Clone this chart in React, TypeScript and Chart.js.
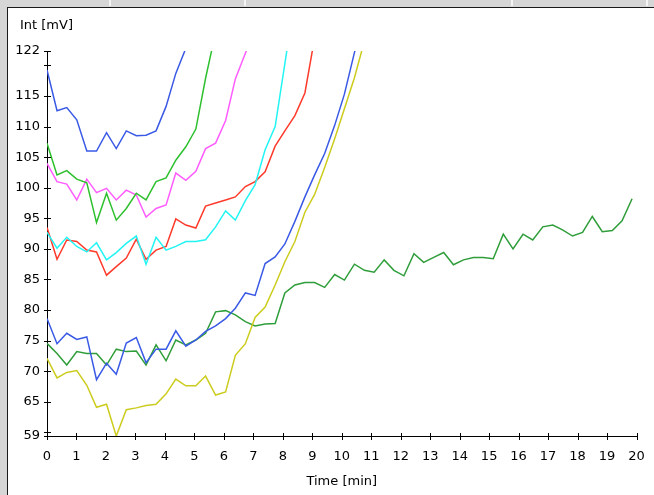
import React, { useEffect, useRef } from 'react';
import { Chart, registerables } from 'chart.js';

Chart.register(...registerables);

// sample times (min)
const times = [
  0, 0.34, 0.67, 1.01, 1.35, 1.68, 2.02, 2.35, 2.69, 3.03,
  3.36, 3.7, 4.04, 4.37, 4.71, 5.05, 5.38, 5.72, 6.06, 6.39,
  6.73, 7.06, 7.4, 7.74, 8.07, 8.41, 8.75, 9.08, 9.42, 9.76,
  10.09, 10.43, 10.77, 11.1, 11.44, 11.77, 12.11, 12.45, 12.78, 13.12,
  13.46, 13.79, 14.13, 14.47, 14.8, 15.14, 15.48, 15.81, 16.15, 16.48,
  16.82, 17.16, 17.49, 17.83, 18.17, 18.5, 18.84, 19.18, 19.51, 19.85,
];

const blueTop = [119.25, 112.6, 113.1, 111.1, 106.0, 106.0, 109.0, 106.4, 109.3, 108.5, 108.6, 109.3, 113.3, 118.7, 122.8, 127.0];
const greenTop = [107.26, 102.1, 102.8, 101.4, 100.8, 94.3, 99.1, 94.7, 96.6, 99.1, 98.0, 101.0, 101.6, 104.5, 106.7, 109.6, 117.9, 125.4];
const magenta = [103.99, 101.0, 100.6, 98.0, 101.4, 99.2, 99.9, 98.0, 99.6, 98.8, 95.2, 96.6, 97.2, 102.4, 101.2, 102.7, 106.4, 107.3, 111.0, 117.8, 122.0, 126.0];
const cyan = [92.7, 90.1, 91.9, 90.4, 89.5, 91.0, 88.2, 89.4, 90.9, 92.1, 87.5, 91.9, 89.8, 90.4, 91.2, 91.2, 91.5, 93.6, 96.2, 94.7, 97.9, 100.5, 106.2, 110.0, 120.3, 131.0];
const red = [93.5, 88.3, 91.45, 91.2, 89.8, 89.5, 85.7, 87.1, 88.5, 91.6, 88.3, 89.8, 90.4, 94.9, 93.9, 93.4, 97.0, 97.5, 98.0, 98.5, 100.2, 101.0, 102.6, 106.8, 109.3, 111.8, 115.5, 124.5];
const blueLow = [78.6, 74.5, 76.2, 75.2, 75.6, 68.6, 71.3, 69.5, 74.6, 75.5, 71.4, 73.6, 73.6, 76.6, 74.1, 75.1, 76.5, 77.4, 78.6, 80.3, 82.8, 82.4, 87.6, 88.7, 90.8, 94.5, 98.5, 102.1, 105.6, 110.2, 115.3, 122.1, 129.0];
const darkGreen = [
  74.55, 72.9, 71.0, 73.2, 72.9, 72.9, 71.0, 73.6, 73.2, 73.3,
  71.0, 74.3, 71.7, 75.1, 74.3, 75.1, 76.2, 79.7, 79.9, 79.2,
  78.1, 77.4, 77.7, 77.8, 82.8, 84.1, 84.5, 84.5, 83.7, 85.8,
  84.9, 87.5, 86.5, 86.2, 88.2, 86.5, 85.6, 89.2, 87.8, 88.6,
  89.4, 87.4, 88.2, 88.6, 88.6, 88.4, 92.4, 90.0, 92.4, 91.45,
  93.6, 93.9, 93.1, 92.1, 92.7, 95.3, 92.8, 93.0, 94.6, 98.2,
];
const yellow = [72.1, 68.9, 69.8, 70.1, 67.7, 64.1, 64.6, 59.4, 63.7, 64.0, 64.4, 64.6, 66.3, 68.7, 67.6, 67.6, 69.2, 66.1, 66.6, 72.6, 74.5, 78.8, 80.5, 84.1, 87.9, 91.2, 96.0, 98.9, 103.3, 108.0, 112.9, 118.0, 124.0];

const xTicks = [0, 1, 2, 3, 4, 5, 6, 7, 8, 9, 10, 11, 12, 13, 14, 15, 16, 17, 18, 19, 20];
const yTicks = [59.4, 60, 65, 70, 75, 80, 85, 90, 95, 100, 105, 110, 115, 120, 122.36];
const yTickLabels = ['59', '', '65', '70', '75', '80', '85', '90', '95', '100', '105', '110', '115', '', '122'];

const xTitle = 'Time [min]';
const yTitle = 'Int [mV]';

const FONT = 'DejaVu Sans';

const seriesList = [
  { name: 'blueTop', values: blueTop, color: '#3a5ae6' },
  { name: 'greenTop', values: greenTop, color: '#2ec02e' },
  { name: 'magenta', values: magenta, color: '#ff5cff' },
  { name: 'cyan', values: cyan, color: '#22f4f4' },
  { name: 'red', values: red, color: '#ff3a2a' },
  { name: 'blueLow', values: blueLow, color: '#3a5ae6' },
  { name: 'yellow', values: yellow, color: '#cccc1e' },
  { name: 'darkGreen', values: darkGreen, color: '#2f9e3a' },
];

const framePlugin = {
  id: 'frame',
  beforeDraw(chart: any) {
    const ctx = chart.ctx;
    const w = chart.width;
    const h = chart.height;
    ctx.save();
    ctx.fillStyle = '#d6d6d6';
    ctx.fillRect(0, 0, w, h);
    ctx.fillStyle = '#ffffff';
    ctx.fillRect(8, 8, w - 8, h - 8);
    ctx.fillStyle = '#1a1a1a';
    ctx.fillRect(7, 7, w - 7, 1);
    ctx.fillRect(7, 7, 1, h - 7);
    ctx.fillStyle = '#f4f4f4';
    [109, 244, 511, 646].forEach((x) => ctx.fillRect(x, 0, 2, 6));
    ctx.restore();
  },
  afterDraw(chart: any) {
    const ctx = chart.ctx;
    const xs = chart.scales.x;
    const ys = chart.scales.y;
    ctx.save();
    ctx.strokeStyle = '#000';
    ctx.lineWidth = 1;
    ctx.beginPath();
    const bottom = Math.round(ys.bottom);
    xs.ticks.forEach((t: any) => {
      const px = Math.round(xs.getPixelForValue(t.value)) + 0.5;
      ctx.moveTo(px, bottom - 3);
      ctx.lineTo(px, bottom + 4);
    });
    const left = Math.round(xs.left);
    ys.ticks.forEach((t: any) => {
      const py = Math.round(ys.getPixelForValue(t.value)) + 0.5;
      ctx.moveTo(left - 3, py);
      ctx.lineTo(left + 4, py);
    });
    ctx.stroke();
    ctx.fillStyle = '#000';
    ctx.font = `13px "${FONT}"`;
    ctx.textAlign = 'left';
    ctx.textBaseline = 'middle';
    ctx.fillText(yTitle, 20, 26);
    ctx.restore();
  },
};

export default function App() {
  const ref = useRef<HTMLCanvasElement | null>(null);

  useEffect(() => {
    document.body.style.margin = '0';
    const canvas = ref.current;
    if (!canvas) return;
    const chart = new Chart(canvas, {
      type: 'line',
      data: {
        datasets: seriesList.map((s) => ({
          label: s.name,
          data: s.values.map((v, i) => ({ x: times[i], y: v })),
          borderColor: s.color,
          backgroundColor: s.color,
          borderWidth: 1.5,
          pointRadius: 0,
          tension: 0,
          fill: false,
          clip: 0,
        })),
      },
      options: {
        animation: false,
        responsive: false,
        maintainAspectRatio: false,
        parsing: false,
        layout: { padding: { left: 0, top: 51, right: 17.5, bottom: 0 } },
        plugins: { legend: { display: false }, tooltip: { enabled: false }, title: { display: false } },
        scales: {
          x: {
            type: 'linear',
            min: 0,
            max: 20,
            afterBuildTicks: (scale: any) => {
              scale.ticks = xTicks.map((v) => ({ value: v }));
            },
            afterFit: (scale: any) => {
              scale.height = 59;
              scale.paddingLeft = 0;
              scale.paddingRight = 0;
            },
            grid: { display: false, drawTicks: false },
            border: { display: true, color: '#000', width: 1 },
            ticks: {
              autoSkip: false,
              maxRotation: 0,
              padding: 13,
              color: '#000',
              font: { family: FONT, size: 13 },
              callback: (v: any) => String(v),
            },
            title: {
              display: true,
              text: xTitle,
              color: '#000',
              font: { family: FONT, size: 13 },
              padding: { top: 0, bottom: 6 },
            },
          },
          y: {
            type: 'linear',
            min: 59.4,
            max: 122.36,
            afterBuildTicks: (scale: any) => {
              scale.ticks = yTicks.map((v) => ({ value: v }));
            },
            afterFit: (scale: any) => {
              scale.width = 47;
              scale.paddingTop = 0;
              scale.paddingBottom = 0;
            },
            grid: { display: false, drawTicks: false },
            border: { display: true, color: '#000', width: 1 },
            ticks: {
              autoSkip: false,
              padding: 7,
              color: '#000',
              font: { family: FONT, size: 13 },
              callback: (_v: any, i: number) => yTickLabels[i],
            },
          },
        },
      },
      plugins: [framePlugin],
    });
    return () => chart.destroy();
  }, []);

  return (
    <div style={{ position: 'fixed', left: 0, top: 0, width: 654, height: 495 }}>
      <canvas ref={ref} width={654} height={495} style={{ display: 'block', width: 654, height: 495 }} />
    </div>
  );
}
